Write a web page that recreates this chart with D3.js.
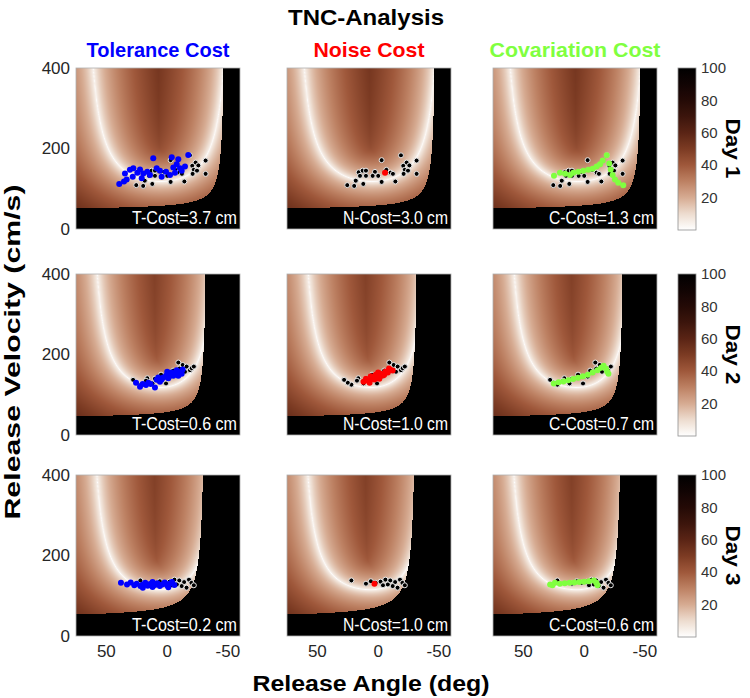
<!DOCTYPE html>
<html><head><meta charset="utf-8">
<script src="https://cdn.jsdelivr.net/npm/d3@7"></script>
<style>body{margin:0;background:#fff}svg{display:block}text{font-family:"Liberation Sans",Arial,sans-serif}</style>
</head><body><svg id="c" width="750" height="698"></svg>
<script>
// ---------------- data ----------------
const columns = ["Tolerance Cost", "Noise Cost", "Covariation Cost"];
const days = ["Day 1", "Day 2", "Day 3"];
const costLabels = [
  ["T-Cost=3.7 cm", "N-Cost=3.0 cm", "C-Cost=1.3 cm"],
  ["T-Cost=0.6 cm", "N-Cost=1.0 cm", "C-Cost=0.7 cm"],
  ["T-Cost=0.2 cm", "N-Cost=1.0 cm", "C-Cost=0.6 cm"]
];
const xTicks = [50, 0, -50];
const yTicks = [0, 200, 400];
const cbTicks = [20, 40, 60, 80, 100];

// observed throws [angle (deg), velocity (cm/s)]
const day1Data = [[-18.8,183],[-2.9,171],[-31.7,170],[-23.5,165],[-25.7,158],[-20.7,157],[-6.8,147],[16,141],[12.7,145],[10,145],[2.6,142],[-10.3,140],[-12.2,137],[-21.9,147],[-24.6,145],[-21,137],[-31.7,137],[14.9,132],[10,132],[4.5,132],[-0.1,132],[-14.2,118],[18.4,120],[12.2,112],[-2.9,117],[25.4,109],[19.7,107]];
const day1Tol = [[39.4,112],[35.5,118],[33.3,123],[34.7,138],[30.6,147],[27.8,151],[28.3,130],[24.5,140],[22.3,148],[19.6,138],[20.9,126],[16.3,142],[14.1,134],[11.4,176],[8.6,151],[5.9,145],[4.5,130],[0.9,142],[-2.4,134],[-3.8,178],[-5.1,153],[-6.5,140],[-7.9,161],[-9.2,173],[-10.6,151],[-12,145],[-14.7,155],[-17.4,184]];
const day1Noise = [[-5.7,140]];
const day1Cov = [[24.8,132],[19.9,140],[15.7,137],[11.6,134],[8.9,140],[4.8,142],[0.7,145],[-3.4,147],[-7.1,150],[-10.3,155],[-13.1,161],[-15.3,170],[-18.6,183],[-20.7,163],[-21.9,148],[-23.5,134],[-25.4,123],[-28.1,115],[-32.2,109]];

const day2Data = [[-9.2,180],[-12.8,174],[-16.1,170],[-18.8,161],[-20.2,166],[-14.7,157],[16.3,141],[17.4,135],[0.9,128],[12,128],[22,125],[5,150],[-5,160],[10,140],[-3,145],[-10,165],[25,130],[-22,170],[28,137]];
const day2Tol = [[25.6,130],[22.3,120],[20.1,127],[17.4,124],[15.5,130],[13.5,127],[10,118],[8.6,137],[7.3,143],[5.9,132],[4.5,138],[3.1,143],[0.9,147],[-0.1,157],[-1,141],[-2.4,149],[-3.8,155],[-5.1,147],[-6.5,153],[-7.9,161],[-9.2,147],[-10.6,157],[-12,152],[-12.8,163]];
const day2Noise = [[10,140],[8,135],[6,146],[4,140],[2,150],[0,145],[-2,152],[-4,148],[-6,158],[-8,155],[-10,162],[12,132],[7,130],[3,138],[-1,140],[-5,150],[-9,165],[-12,160],[0,155],[5,143]];
const day2Cov = [[25,128],[21,131],[17,133],[13,136],[9,139],[5,142],[1,146],[-3,150],[-7,155],[-11,161],[-14,167],[-16,172],[-18,165],[-19,158],[-20,152]];

const day3Data = [[-2,135],[-6,140],[-10,138],[-14,134],[-18,140],[-20,132],[-8,128],[-12,124],[-16,120],[-4,126],[2,132],[6,136],[10,130],[22,138],[-22,126]];
const day3Tol = [[38,132],[33,128],[30,133],[27,126],[25,130],[22,124],[20,128],[18,132],[16,125],[14,129],[12,122],[10,127],[8,131],[6,124],[4,128],[2,133],[0,126],[-2,130],[-4,134],[-6,127],[20,120],[12,134],[-1,121]];
const day3Noise = [[3,130]];
const day3Cov = [[28,128],[24,132],[20,130],[16,131],[12,132],[8,133],[4,134],[0,135],[-4,136],[-8,138],[-10,132],[-11,126],[26,126]];

const dayData = [day1Data, day2Data, day3Data];
const transformed = [
  [day1Tol, day1Noise, day1Cov],
  [day2Tol, day2Noise, day2Cov],
  [day3Tol, day3Noise, day3Cov]
];

// error-landscape model per day: solution manifold and post-hit region
const manifoldCenter = [5, 6, 6];
const manifoldHalfWidthL = [65, 60, 60];
const manifoldHalfWidthR = [60, 50, 50];
const manifoldBase = [17, 17, 17];
const manifoldBottom = [118, 118, 115];
const blackBase = [47, 42, 45];
const blackK = [564, 500, 900];
const blackAsym = [-48, -33, -32];

// ---------------- layout ----------------
const colX = [76, 287, 493];
const rowY = [68, 274, 475];
const PW = 164, PH = 161;
const colColors = ["#0000ff", "#ff0000", "#80ff40"];
const svg = d3.select("#c");
const x = d3.scaleLinear().domain([75, -60]).range([0, PW]);
const y = d3.scaleLinear().domain([0, 400]).range([PH, 0]);
const cStops = [[0,"#ffffff"],[10,"#eddccf"],[20,"#d6ab92"],[30,"#bd8163"],[40,"#9f583b"],[50,"#7c3b23"],[60,"#5a2415"],[70,"#3c150c"],[80,"#240a06"],[90,"#110403"],[100,"#000000"]];
const color = d3.scaleLinear().domain(cStops.map(d=>d[0])).range(cStops.map(d=>d[1])).clamp(true);

function landscape(r) {
  const pts = [];
  const a0 = manifoldCenter[r], c = manifoldBottom[r] - manifoldBase[r];
  for (let side of [-1, 1]) {
    const H = side < 0 ? manifoldHalfWidthR[r] : manifoldHalfWidthL[r];
    for (let t = 0; t < 0.999; t += 0.0015) {
      const v = manifoldBase[r] + c / (1 - t * t);
      if (v > 460) break;
      pts.push([x(a0 + side * t * H), y(v)]);
    }
  }
  const cv = document.createElement("canvas");
  cv.width = PW; cv.height = PH;
  const ctx = cv.getContext("2d");
  const img = ctx.createImageData(PW, PH);
  for (let j = 0; j < PH; j++) {
    for (let i = 0; i < PW; i++) {
      const px = i + 0.5, py = j + 0.5;
      const a = x.invert(px), v = y.invert(py);
      let val;
      const ba = blackAsym[r];
      const vBlack = a > ba ? blackBase[r] + blackK[r] / (a - ba) : Infinity;
      if (v < vBlack) val = 100;
      else {
        let m = Infinity;
        for (const p of pts) {
          const dx = p[0] - px, dy = (p[1] - py) * 1.4;
          const d = dx * dx + dy * dy;
          if (d < m) m = d;
        }
        val = Math.min(100, 5.2 * Math.pow(Math.sqrt(m), 0.55));
      }
      const col = d3.rgb(color(val));
      const k = (j * PW + i) * 4;
      img.data[k] = col.r; img.data[k+1] = col.g; img.data[k+2] = col.b; img.data[k+3] = 255;
    }
  }
  ctx.putImageData(img, 0, 0);
  return cv.toDataURL();
}

// title & headers
svg.append("text").attr("x", 366).attr("y", 25).attr("text-anchor", "middle")
  .attr("font-size", 22).attr("font-weight", "bold").attr("textLength", 156).attr("lengthAdjust","spacingAndGlyphs").text("TNC-Analysis");
const headW = [143, 111, 171];
columns.forEach((c, i) => {
  svg.append("text").attr("x", colX[i] + PW / 2).attr("y", 57).attr("text-anchor", "middle")
    .attr("font-size", 21).attr("font-weight", "bold").attr("fill", colColors[i])
    .attr("textLength", headW[i]).attr("lengthAdjust","spacingAndGlyphs").text(c);
});

for (let r = 0; r < 3; r++) {
  const url = landscape(r);
  for (let ci = 0; ci < 3; ci++) {
    const g = svg.append("g").attr("transform", `translate(${colX[ci]},${rowY[r]})`);
    g.append("image").attr("href", url).attr("width", PW).attr("height", PH).attr("preserveAspectRatio","none");
    g.append("rect").attr("width", PW).attr("height", PH).attr("fill", "none").attr("stroke", "#b0b0b0").attr("stroke-width", 0.8);
    g.selectAll(".obs").data(dayData[r]).join("circle").attr("class","obs")
      .attr("cx", d => x(d[0])).attr("cy", d => y(d[1])).attr("r", 2.5)
      .attr("fill", "#000").attr("stroke", "#e8e8e8").attr("stroke-width", 1);
    g.selectAll(".tr").data(transformed[r][ci]).join("circle").attr("class","tr")
      .attr("cx", d => x(d[0])).attr("cy", d => y(d[1])).attr("r", 3)
      .attr("fill", colColors[ci]);
    g.append("text").attr("x", PW - 3).attr("y", PH - 5).attr("text-anchor", "end")
      .attr("font-size", 18).attr("fill", "#fff").attr("textLength", 105).attr("lengthAdjust","spacingAndGlyphs")
      .text(costLabels[r][ci]);
    if (ci === 0) {
      yTicks.forEach(t => g.append("text").attr("x", -6).attr("y", y(t)).attr("dy", "0.35em")
        .attr("text-anchor", "end").attr("font-size", 17).attr("fill", "#262626").text(t));
    }
    if (r === 2) {
      xTicks.forEach(t => g.append("text").attr("x", x(t)).attr("y", PH + 21)
        .attr("text-anchor", "middle").attr("font-size", 17).attr("fill", "#262626").text(t));
    }
  }
  // colorbar
  const cbY = d3.scaleLinear().domain([0, 100]).range([rowY[r] + PH + 1, rowY[r]]);
  const gid = "cbg" + r;
  const grad = svg.append("defs").append("linearGradient").attr("id", gid)
    .attr("x1", 0).attr("y1", 1).attr("x2", 0).attr("y2", 0);
  d3.range(0, 101, 5).forEach(v => grad.append("stop").attr("offset", v / 100).attr("stop-color", color(v)));
  svg.append("rect").attr("x", 678).attr("y", rowY[r]).attr("width", 18).attr("height", PH + 1)
    .attr("fill", `url(#${gid})`).attr("stroke", "#909090").attr("stroke-width", 0.8);
  cbTicks.forEach(t => svg.append("text").attr("x", 701).attr("y", cbY(t)).attr("dy", "0.35em")
    .attr("font-size", 15).attr("fill", "#333").text(t));
  svg.append("text").attr("transform", `translate(733,${rowY[r] + PH / 2}) rotate(90)`)
    .attr("text-anchor", "middle").attr("dy", "0.35em").attr("font-size", 21).attr("font-weight", "bold")
    .attr("textLength", 60).attr("lengthAdjust","spacingAndGlyphs").text(days[r]);
}

svg.append("text").attr("transform", "translate(20,352) rotate(-90)").attr("text-anchor", "middle")
  .attr("font-size", 22).attr("font-weight", "bold").attr("textLength", 335).attr("lengthAdjust","spacingAndGlyphs")
  .text("Release Velocity (cm/s)");
svg.append("text").attr("x", 371).attr("y", 691).attr("text-anchor", "middle")
  .attr("font-size", 22).attr("font-weight", "bold").attr("textLength", 237).attr("lengthAdjust","spacingAndGlyphs")
  .text("Release Angle (deg)");
</script></body></html>
